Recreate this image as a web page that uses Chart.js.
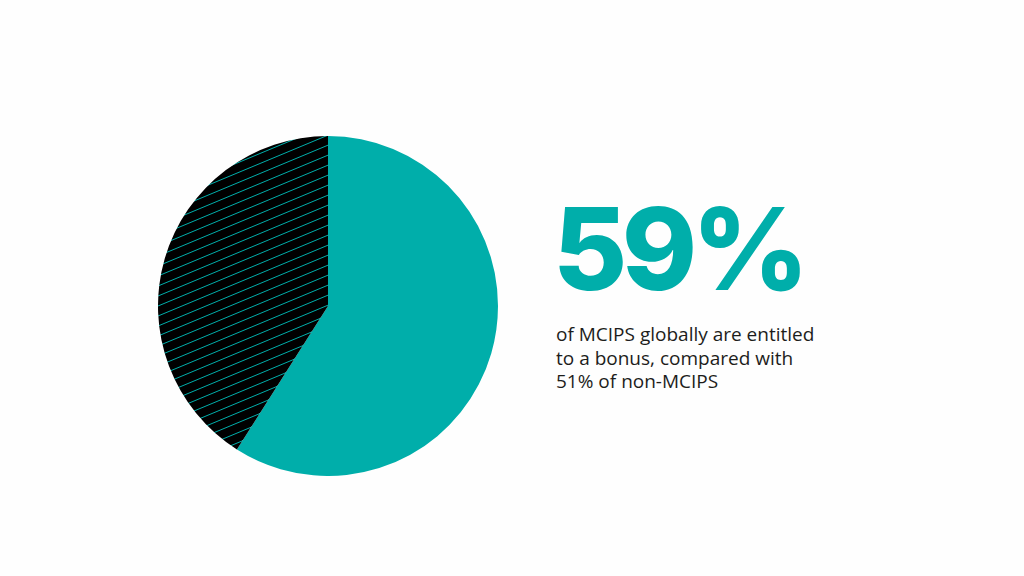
<!DOCTYPE html>
<html>
<head>
<meta charset="utf-8">
<script src="https://cdn.jsdelivr.net/npm/chart.js@4"></script>
<style>
  html, body { margin: 0; padding: 0; background: #fefefe; }
  body { width: 1024px; height: 576px; position: relative; overflow: hidden; }
  #pieWrap { position: absolute; left: 158px; top: 136px; width: 340px; height: 340px; }
  #bigNum {
    position: absolute; left: 553px; top: 192px;
    font-family: Inter, Lato, sans-serif; font-weight: 800; font-size: 114px; line-height: 114px;
    color: #00aeaa; letter-spacing: -5.5px;
  }
  #caption {
    position: absolute; left: 556px; top: 323px;
    font-family: "Open Sans", sans-serif; font-size: 19px; line-height: 23.5px;
    color: #1d1d1b;
  }
</style>
</head>
<body>
<div id="pieWrap"><canvas id="pieChart"></canvas></div>
<div id="bigNum">59%</div>
<div id="caption">of MCIPS globally are entitled<br>to a bonus, compared with<br>51% of non-MCIPS</div>
<script>
const labels = ['Entitled to a bonus', 'Not entitled'];
const values = [59, 41];

const teal = '#00aeaa';

// black tile with thin teal diagonal lines
const makeHatch = () => {
    const w = 24, h = 10;
    const tile = document.createElement('canvas');
    tile.width = w;
    tile.height = h;
    const c = tile.getContext('2d');
    c.fillStyle = '#000';
    c.fillRect(0, 0, w, h);
    c.strokeStyle = teal;
    c.lineWidth = 1;
    for (let k = -1; k <= 1; k++) {
        c.beginPath();
        c.moveTo(k * w, h);
        c.lineTo((k + 1) * w, 0);
        c.moveTo(k * w, 2 * h);
        c.lineTo((k + 1) * w, h);
        c.moveTo(k * w, 0);
        c.lineTo((k + 1) * w, -h);
        c.stroke();
    }
    return c.createPattern(tile, 'repeat');
};

const ctx = document.getElementById('pieChart');

new Chart(ctx, {
    type: 'pie',
    data: {
        labels,
        datasets: [{
            data: values,
            backgroundColor: [teal, makeHatch()],
            borderWidth: 0
        }]
    },
    options: {
        animation: false,
        responsive: true,
        maintainAspectRatio: false,
        layout: { padding: 0 },
        plugins: {
            legend: { display: false },
            tooltip: { enabled: false }
        }
    }
});
</script>
</body>
</html>
